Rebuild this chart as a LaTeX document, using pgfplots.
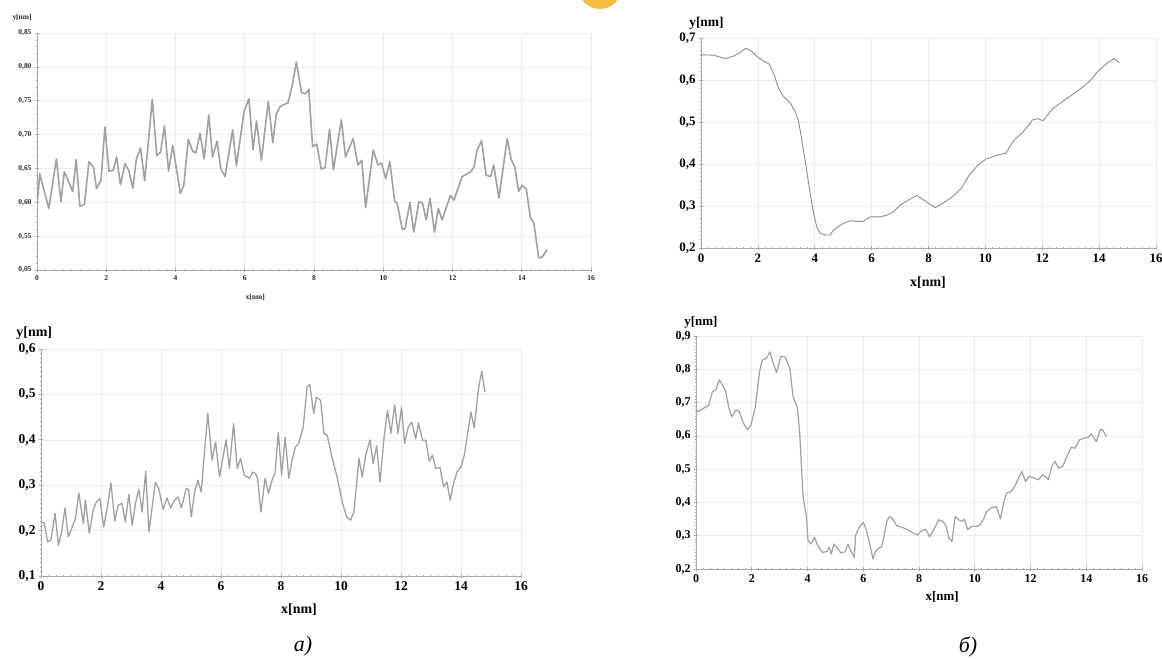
\documentclass[border=0pt]{standalone}
\usepackage{pgfplots}
\usepackage{pgfplotstable}
\pgfplotsset{compat=1.18}
\usepackage{fontspec}
\setmainfont{Liberation Serif}
\definecolor{axgray}{HTML}{A8A8A8}
\definecolor{gridgray}{HTML}{EBEBEB}
\definecolor{lineA}{HTML}{A0A0A0}
\definecolor{lineB}{HTML}{8C8C8C}
\definecolor{logo}{HTML}{F2BE3C}

\pgfplotstableread{
x y
0.00 0.595
0.08 0.642
0.34 0.591
0.56 0.664
0.69 0.601
0.79 0.645
1.03 0.616
1.13 0.663
1.24 0.594
1.37 0.597
1.50 0.660
1.63 0.652
1.72 0.620
1.85 0.633
1.96 0.711
2.08 0.646
2.20 0.647
2.30 0.667
2.41 0.626
2.54 0.657
2.65 0.647
2.77 0.621
2.87 0.664
2.99 0.680
3.11 0.632
3.33 0.752
3.46 0.669
3.57 0.674
3.68 0.713
3.80 0.646
3.92 0.684
4.14 0.613
4.24 0.625
4.37 0.693
4.50 0.675
4.59 0.673
4.71 0.702
4.83 0.664
4.96 0.729
5.07 0.667
5.20 0.690
5.31 0.649
5.43 0.638
5.65 0.707
5.76 0.654
5.98 0.734
6.12 0.753
6.24 0.678
6.34 0.720
6.48 0.662
6.68 0.749
6.81 0.688
6.91 0.730
7.03 0.742
7.25 0.747
7.37 0.772
7.49 0.807
7.64 0.762
7.75 0.760
7.85 0.767
7.96 0.682
8.08 0.686
8.21 0.649
8.32 0.651
8.45 0.708
8.56 0.648
8.79 0.722
8.91 0.667
9.13 0.694
9.27 0.655
9.38 0.662
9.49 0.592
9.71 0.677
9.85 0.655
9.95 0.658
10.07 0.635
10.19 0.660
10.33 0.601
10.40 0.599
10.55 0.560
10.63 0.561
10.77 0.600
10.88 0.556
11.03 0.601
11.13 0.599
11.24 0.574
11.35 0.606
11.48 0.556
11.59 0.591
11.70 0.574
11.94 0.610
12.04 0.603
12.28 0.638
12.39 0.641
12.52 0.645
12.62 0.652
12.71 0.677
12.84 0.691
12.97 0.640
13.10 0.638
13.19 0.655
13.34 0.606
13.58 0.694
13.69 0.664
13.80 0.652
13.91 0.616
14.01 0.625
14.13 0.620
14.25 0.577
14.35 0.569
14.49 0.518
14.59 0.519
14.73 0.530
}\dataAone

\pgfplotstableread{
x y
0.00 0.219
0.11 0.216
0.22 0.175
0.33 0.179
0.47 0.238
0.58 0.168
0.69 0.197
0.80 0.250
0.91 0.186
1.04 0.208
1.15 0.227
1.26 0.283
1.41 0.216
1.48 0.267
1.61 0.194
1.74 0.245
1.85 0.263
1.96 0.271
2.09 0.208
2.22 0.256
2.33 0.305
2.46 0.221
2.57 0.256
2.70 0.260
2.81 0.219
2.93 0.280
3.04 0.212
3.15 0.260
3.26 0.291
3.37 0.241
3.49 0.331
3.60 0.197
3.70 0.249
3.81 0.306
3.92 0.294
4.07 0.247
4.20 0.272
4.32 0.250
4.45 0.267
4.57 0.274
4.68 0.250
4.84 0.293
4.92 0.290
5.01 0.230
5.12 0.285
5.23 0.311
5.34 0.285
5.45 0.373
5.56 0.458
5.70 0.355
5.82 0.395
5.95 0.318
6.06 0.359
6.17 0.400
6.28 0.337
6.42 0.436
6.54 0.337
6.65 0.359
6.78 0.322
6.95 0.315
7.06 0.329
7.15 0.326
7.22 0.315
7.33 0.241
7.47 0.315
7.58 0.282
7.72 0.315
7.80 0.326
7.91 0.416
8.02 0.323
8.14 0.406
8.26 0.315
8.37 0.355
8.48 0.384
8.59 0.392
8.74 0.428
8.87 0.516
8.96 0.522
9.09 0.458
9.18 0.494
9.32 0.487
9.43 0.414
9.54 0.410
9.71 0.359
9.87 0.318
10.04 0.263
10.19 0.230
10.32 0.223
10.43 0.241
10.60 0.359
10.71 0.318
10.82 0.366
10.97 0.400
11.07 0.348
11.19 0.387
11.30 0.307
11.43 0.402
11.55 0.465
11.66 0.414
11.79 0.477
11.90 0.414
12.02 0.472
12.12 0.392
12.24 0.428
12.36 0.439
12.49 0.402
12.58 0.437
12.72 0.399
12.83 0.399
12.94 0.353
13.05 0.366
13.16 0.337
13.30 0.339
13.42 0.296
13.53 0.307
13.64 0.267
13.75 0.304
13.88 0.331
14.00 0.341
14.11 0.366
14.22 0.414
14.33 0.461
14.44 0.426
14.58 0.512
14.69 0.551
14.80 0.505
}\dataAtwo

\pgfplotstableread{
x y
0.00 0.660
0.45 0.659
0.85 0.651
1.15 0.657
1.32 0.663
1.56 0.675
1.73 0.671
1.99 0.655
2.20 0.645
2.38 0.639
2.55 0.616
2.73 0.580
2.90 0.561
3.14 0.545
3.31 0.525
3.43 0.502
3.55 0.455
3.70 0.392
3.84 0.329
3.96 0.282
4.07 0.251
4.19 0.235
4.37 0.231
4.54 0.231
4.66 0.243
4.84 0.251
5.01 0.259
5.25 0.265
5.48 0.263
5.71 0.264
5.95 0.274
6.30 0.274
6.53 0.278
6.77 0.286
7.00 0.302
7.30 0.314
7.59 0.325
7.88 0.312
8.23 0.296
8.49 0.306
8.84 0.322
9.14 0.341
9.43 0.373
9.72 0.396
10.02 0.412
10.37 0.420
10.72 0.426
11.01 0.457
11.31 0.475
11.66 0.505
11.85 0.508
12.02 0.503
12.36 0.531
12.71 0.549
13.06 0.565
13.42 0.583
13.71 0.600
14.00 0.624
14.30 0.641
14.53 0.651
14.71 0.641
}\dataBone

\pgfplotstableread{
x y
0.00 0.678
0.10 0.673
0.27 0.683
0.45 0.691
0.59 0.733
0.71 0.738
0.84 0.768
1.05 0.738
1.17 0.688
1.28 0.658
1.43 0.678
1.55 0.673
1.70 0.638
1.85 0.618
1.97 0.633
2.12 0.683
2.29 0.798
2.38 0.828
2.53 0.833
2.65 0.853
2.77 0.818
2.89 0.790
3.04 0.838
3.19 0.838
3.37 0.803
3.48 0.718
3.64 0.683
3.72 0.608
3.84 0.418
3.96 0.358
4.02 0.285
4.12 0.275
4.25 0.295
4.40 0.265
4.55 0.250
4.70 0.253
4.78 0.265
4.85 0.245
4.95 0.275
5.10 0.260
5.20 0.248
5.35 0.252
5.45 0.275
5.55 0.255
5.68 0.235
5.72 0.300
5.85 0.325
6.00 0.340
6.10 0.320
6.25 0.270
6.35 0.230
6.45 0.255
6.55 0.262
6.65 0.265
6.75 0.300
6.85 0.345
6.95 0.358
7.05 0.350
7.20 0.330
7.40 0.325
7.60 0.318
7.80 0.308
7.95 0.302
8.06 0.313
8.24 0.320
8.38 0.296
8.53 0.318
8.71 0.348
8.85 0.343
8.97 0.330
9.07 0.293
9.18 0.283
9.30 0.358
9.42 0.348
9.54 0.343
9.63 0.350
9.75 0.318
9.89 0.328
10.07 0.328
10.19 0.333
10.31 0.348
10.43 0.373
10.58 0.383
10.78 0.388
10.92 0.350
11.05 0.403
11.14 0.428
11.31 0.433
11.43 0.448
11.54 0.468
11.69 0.493
11.82 0.463
11.96 0.478
12.14 0.473
12.28 0.468
12.44 0.483
12.53 0.478
12.64 0.468
12.76 0.508
12.88 0.523
13.01 0.503
13.15 0.508
13.31 0.538
13.46 0.566
13.60 0.563
13.76 0.588
13.91 0.593
14.06 0.595
14.18 0.606
14.36 0.583
14.51 0.620
14.60 0.616
14.72 0.598
}\dataBtwo

\pgfplotsset{
  panel/.style={
    scale only axis,
    anchor=south west,
    axis lines=left,
    axis line style={-, color=axgray, line width=0.8bp},
    enlargelimits=false,
    xmin=0, xmax=16,
    xtick={0,2,4,6,8,10,12,14,16},
    xticklabels={0,2,4,6,8,10,12,14,16},
    minor x tick num=7,
    grid=major,
    grid style={color=gridgray, line width=0.6bp},
    major tick style={color=axgray, line width=0.7bp},
    minor tick style={color=axgray, line width=0.5bp},
    major tick length=4bp,
    minor tick length=2.5bp,
    tick align=center,
    /pgf/number format/assume math mode=true,
  },
}

\begin{document}
\begin{tikzpicture}
\path[use as bounding box] (0,0) rectangle (1162bp,659bp);
\begin{scope}
\clip (0,0) rectangle (1162bp,659bp);
\fill[logo] (600bp,672bp) circle (22bp);
\end{scope}

% ---- top left ----
\begin{axis}[panel,
  at={(37bp,389bp)}, width=554bp, height=237bp,
  ymin=0.5, ymax=0.85,
  ytick={0.5,0.55,0.6,0.65,0.7,0.75,0.8,0.85},
  yticklabels={{0,05},{0,55},{0,60},{0,65},{0,70},{0,75},{0,80},{0,85}},
  minor y tick num=4,
  ticklabel style={font=\fontsize{7.5}{8}\selectfont\bfseries, text=black!85},
  xlabel={x[nm]}, ylabel={y[nm]},
  every axis x label/.style={at={(axis description cs:0.394,-0.114)}, anchor=center, font=\fontsize{7.5}{8}\selectfont\bfseries, text=black!85},
  every axis y label/.style={at={(axis description cs:-0.027,1.063)}, anchor=center, font=\fontsize{7.5}{8}\selectfont\bfseries, text=black!85},
]
\addplot[color=lineA, line width=1.6bp, line join=round, no markers] table {\dataAone};
\end{axis}

% ---- bottom left ----
\begin{axis}[panel,
  at={(41bp,83bp)}, width=480bp, height=227bp,
  ymin=0.1, ymax=0.6,
  ytick={0.1,0.2,0.3,0.4,0.5,0.6},
  yticklabels={{0,1},{0,2},{0,3},{0,4},{0,5},{0,6}},
  minor y tick num=9,
  ticklabel style={font=\fontsize{13.5}{14}\selectfont\bfseries, text=black},
  xlabel={x[nm]}, ylabel={y[nm]},
  every axis x label/.style={at={(axis description cs:0.5375,-0.150)}, anchor=center, font=\fontsize{14}{15}\selectfont\bfseries},
  every axis y label/.style={at={(axis description cs:-0.014,1.070)}, anchor=center, font=\fontsize{14}{15}\selectfont\bfseries},
]
\addplot[color=lineA, line width=1.3bp, line join=round, no markers] table {\dataAtwo};
\end{axis}

% ---- top right ----
\begin{axis}[panel,
  at={(701bp,411bp)}, width=455bp, height=210bp,
  ymin=0.2, ymax=0.7,
  ytick={0.2,0.3,0.4,0.5,0.6,0.7},
  yticklabels={{0,2},{0,3},{0,4},{0,5},{0,6},{0,7}},
  minor y tick num=9,
  ticklabel style={font=\fontsize{13}{14}\selectfont\bfseries, text=black},
  xlabel={x[nm]}, ylabel={y[nm]},
  every axis x label/.style={at={(axis description cs:0.499,-0.166)}, anchor=center, font=\fontsize{14}{15}\selectfont\bfseries},
  every axis y label/.style={at={(axis description cs:0.012,1.070)}, anchor=center, font=\fontsize{13.5}{14}\selectfont\bfseries},
]
\addplot[color=lineB, line width=0.9bp, line join=round, no markers] table {\dataBone};
\end{axis}

% ---- bottom right ----
\begin{axis}[panel,
  at={(696bp,90bp)}, width=446bp, height=233bp,
  ymin=0.2, ymax=0.9,
  ytick={0.2,0.3,0.4,0.5,0.6,0.7,0.8,0.9},
  yticklabels={{0,2},{0,3},{0,4},{0,5},{0,6},{0,7},{0,8},{0,9}},
  minor y tick num=9,
  ticklabel style={font=\fontsize{12}{13}\selectfont\bfseries, text=black},
  xlabel={x[nm]}, ylabel={y[nm]},
  every axis x label/.style={at={(axis description cs:0.552,-0.120)}, anchor=center, font=\fontsize{13}{14}\selectfont\bfseries},
  every axis y label/.style={at={(axis description cs:0.011,1.060)}, anchor=center, font=\fontsize{13}{14}\selectfont\bfseries},
]
\addplot[color=lineA, line width=1.2bp, line join=round, no markers] table {\dataBtwo};
\end{axis}

\node[font=\fontsize{22}{24}\selectfont\itshape] at (303bp,13bp) {a)};
\node[font=\fontsize{22}{24}\selectfont\itshape] at (968bp,12bp) {б)};
\end{tikzpicture}
\end{document}
